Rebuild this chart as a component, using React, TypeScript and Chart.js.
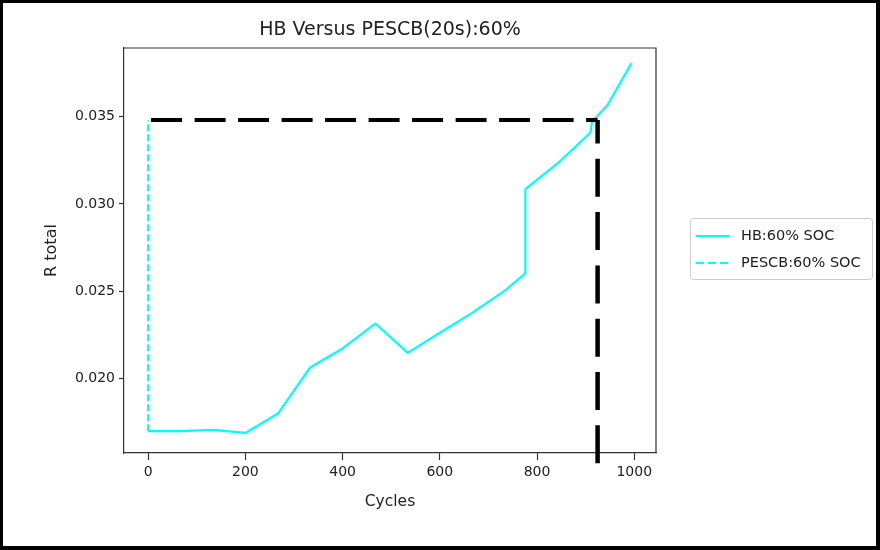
import React, { useEffect, useRef } from 'react';
import { Chart, registerables } from 'chart.js';

Chart.register(...registerables);

// ---- data ----
const hbCycles = [0, 67, 133, 200, 267, 333, 400, 467, 534, 600, 665, 733, 776, 776, 846, 910, 913, 945, 994];
const hbR = [0.01698, 0.01698, 0.01705, 0.01688, 0.01799, 0.02063, 0.02172, 0.02315, 0.02147, 0.02262, 0.02373, 0.02502, 0.02602, 0.03085, 0.03242, 0.03410, 0.03471, 0.03567, 0.03806];

const pescbCycles = [0, 0];
const pescbR = [0.01698, 0.03480];

const refHCycles = [6, 924.6];
const refHR = [0.03481, 0.03481];
const refVCycles = [924.6, 924.6];
const refVR = [0.01514, 0.03481];

const xTicks = [0, 200, 400, 600, 800, 1000];
const yTicks = [0.020, 0.025, 0.030, 0.035];

const titleText = 'HB Versus PESCB(20s):60%';
const xLabel = 'Cycles';
const yLabel = 'R total';
const legendLabels = ['HB:60% SOC', 'PESCB:60% SOC'];

const CYAN = '#00FFFF';
const TEXT = '#222222';
const FONT = '"DejaVu Sans", sans-serif';

const toPts = (xs: number[], ys: number[]) => xs.map((x, i) => ({ x, y: ys[i] }));

const decorPlugin = {
  id: 'decor',
  beforeDraw(chart: any) {
    const { ctx, width, height } = chart;
    ctx.save();
    ctx.fillStyle = '#ffffff';
    ctx.fillRect(0, 0, width, height);
    ctx.restore();
  },
  afterDraw(chart: any) {
    const { ctx, chartArea: a } = chart;
    ctx.save();
    // top/right spines
    ctx.strokeStyle = '#333333';
    ctx.lineWidth = 1.2;
    ctx.beginPath();
    ctx.moveTo(a.left, a.top);
    ctx.lineTo(a.right, a.top);
    ctx.lineTo(a.right, a.bottom);
    ctx.stroke();

    // title
    ctx.fillStyle = TEXT;
    ctx.font = `19px ${FONT}`;
    ctx.textAlign = 'center';
    ctx.textBaseline = 'alphabetic';
    ctx.fillText(titleText, (a.left + a.right) / 2, 35);

    // legend
    const bx = 690.5, by = 218.5, bw = 182, bh = 61, r = 3;
    ctx.beginPath();
    ctx.moveTo(bx + r, by);
    ctx.lineTo(bx + bw - r, by);
    ctx.arcTo(bx + bw, by, bx + bw, by + r, r);
    ctx.lineTo(bx + bw, by + bh - r);
    ctx.arcTo(bx + bw, by + bh, bx + bw - r, by + bh, r);
    ctx.lineTo(bx + r, by + bh);
    ctx.arcTo(bx, by + bh, bx, by + bh - r, r);
    ctx.lineTo(bx, by + r);
    ctx.arcTo(bx, by, bx + r, by, r);
    ctx.closePath();
    ctx.fillStyle = '#ffffff';
    ctx.fill();
    ctx.strokeStyle = '#cccccc';
    ctx.lineWidth = 1;
    ctx.stroke();

    const rows = [236, 263];
    ctx.strokeStyle = CYAN;
    ctx.lineWidth = 2;
    rows.forEach((y, i) => {
      ctx.setLineDash(i === 0 ? [] : [8, 4]);
      ctx.beginPath();
      ctx.moveTo(696, y);
      ctx.lineTo(729, y);
      ctx.stroke();
    });
    ctx.setLineDash([]);
    ctx.fillStyle = TEXT;
    ctx.font = `14.5px ${FONT}`;
    ctx.textAlign = 'left';
    ctx.textBaseline = 'middle';
    rows.forEach((y, i) => ctx.fillText(legendLabels[i], 741, y));

    // outer black frame
    ctx.fillStyle = '#000000';
    ctx.fillRect(0, 0, 880, 3);
    ctx.fillRect(0, 0, 3, 550);
    ctx.fillRect(876, 0, 4, 550);
    ctx.fillRect(0, 546, 880, 4);
    ctx.restore();
  },
};

export default function App() {
  const ref = useRef<HTMLCanvasElement>(null);

  useEffect(() => {
    const canvas = ref.current;
    if (!canvas) return;
    const lineBase = {
      showLine: true,
      pointRadius: 0,
      pointHoverRadius: 0,
      fill: false,
      tension: 0,
    };
    const chart = new Chart(canvas, {
      type: 'scatter',
      data: {
        datasets: [
          {
            ...lineBase,
            label: 'refH',
            data: toPts(refHCycles, refHR),
            borderColor: '#000000',
            borderWidth: 4,
            borderDash: [31, 12.5],
            borderCapStyle: 'butt',
          },
          {
            ...lineBase,
            label: 'refV',
            data: toPts(refVCycles, refVR),
            borderColor: '#000000',
            borderWidth: 4.5,
            borderDash: [38, 15.3],
            borderCapStyle: 'butt',
            clip: false,
          },
          {
            ...lineBase,
            label: legendLabels[0],
            data: toPts(hbCycles, hbR),
            borderColor: CYAN,
            borderWidth: 2.2,
            borderJoinStyle: 'round',
          },
          {
            ...lineBase,
            label: legendLabels[1],
            data: toPts(pescbCycles, pescbR),
            borderColor: CYAN,
            borderWidth: 2.2,
            borderDash: [7, 3],
          },
        ] as any,
      },
      options: {
        animation: false,
        responsive: false,
        devicePixelRatio: 1,
        events: [],
        layout: { padding: { left: 0, top: 48, right: 224, bottom: 0 } },
        plugins: {
          legend: { display: false },
          title: { display: false },
          tooltip: { enabled: false },
        },
        scales: {
          x: {
            type: 'linear',
            min: -49.75,
            max: 1044.75,
            afterBuildTicks: (s: any) => {
              s.ticks = xTicks.map((v) => ({ value: v }));
            },
            afterFit: (s: any) => {
              s.height = 97;
            },
            ticks: {
              autoSkip: false,
              maxRotation: 0,
              color: TEXT,
              font: { family: FONT, size: 14 },
              padding: 4,
              callback: (v: any) => String(v),
            },
            grid: {
              drawOnChartArea: false,
              drawTicks: true,
              tickLength: 7,
              tickColor: '#333333',
              tickWidth: 1.2,
            },
            border: { display: true, color: '#333333', width: 1.2 },
            title: {
              display: true,
              text: xLabel,
              color: TEXT,
              font: { family: FONT, size: 15.5 },
              padding: { top: 0, bottom: 38.7 },
            },
          },
          y: {
            type: 'linear',
            min: 0.01573,
            max: 0.03894,
            afterBuildTicks: (s: any) => {
              s.ticks = yTicks.map((v) => ({ value: v }));
            },
            afterFit: (s: any) => {
              s.width = 124;
            },
            ticks: {
              autoSkip: false,
              color: TEXT,
              font: { family: FONT, size: 14 },
              padding: 4,
              callback: (v: any) => Number(v).toFixed(3),
            },
            grid: {
              drawOnChartArea: false,
              drawTicks: true,
              tickLength: 5,
              tickColor: '#333333',
              tickWidth: 1.2,
            },
            border: { display: true, color: '#333333', width: 1.2 },
            title: {
              display: true,
              text: yLabel,
              color: TEXT,
              font: { family: FONT, size: 16 },
              padding: { top: 42.4, bottom: 0 },
            },
          },
        },
      } as any,
      plugins: [decorPlugin],
    });
    return () => chart.destroy();
  }, []);

  return (
    <div style={{ position: 'fixed', left: 0, top: 0, width: 880, height: 550, background: '#fff' }}>
      <canvas ref={ref} width={880} height={550} style={{ display: 'block', width: 880, height: 550 }} />
    </div>
  );
}
